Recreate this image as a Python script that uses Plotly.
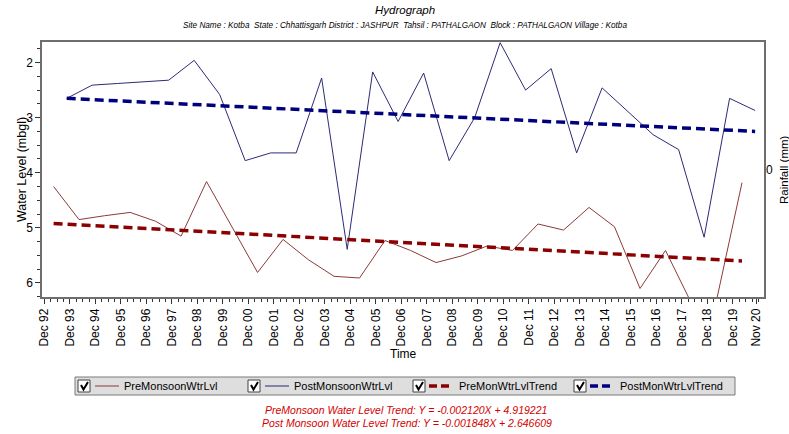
import plotly.graph_objects as go

# hydrograph data (water level in mbgl)
years = list(range(1993, 2021))
pre_dates = [f"{y}-04-10" for y in years]
post_dates = [f"{y}-10-15" for y in years]

pre_level = [4.25, 4.85, 4.78, 4.72, 4.88, 5.15, 4.16, 4.98, 5.81, 5.21,
             5.58, 5.88, 5.91, 5.23, 5.41, 5.63, 5.51, 5.33, 5.41, 4.93,
             5.04, 4.63, 4.98, 6.10, 5.41, 6.35, 6.32, 4.18]
post_level = [2.65, 2.41, 2.38, 2.35, 2.32, 1.96, 2.58, 3.78, 3.64, 3.64,
              2.28, 5.39, 2.17, 3.07, 2.19, 3.78, 3.00, 1.64, 2.50, 2.11,
              3.64, 2.46, 2.88, 3.31, 3.58, 5.17, 2.65, 2.87]

# trend line end points
pre_trend_dates = ["1993-04-10", "2020-04-10"]
pre_trend = [4.92, 5.60]
post_trend_dates = ["1993-10-15", "2020-10-15"]
post_trend = [2.65, 3.25]

tick_dates = [f"{y}-12-01" for y in range(1992, 2020)] + ["2020-11-01"]
tick_labels = [f"Dec {y % 100:02d}" for y in range(1992, 2020)] + ["Nov 20"]

PRE_COLOR = "#8c3a3a"
POST_COLOR = "#2b2b78"
PRE_TREND_COLOR = "#8b0000"
POST_TREND_COLOR = "#00007f"
FONT = "Liberation Sans, Arial, sans-serif"

# plot area in pixels (used for the hand-drawn legend and labels)
L, R, T, B = 42, 764, 42, 297


def px(x):
    return (x - L) / (R - L)


def py(y):
    return (B - y) / (B - T)


fig = go.Figure()
fig.add_trace(go.Scatter(x=pre_dates, y=pre_level, mode="lines", name="PreMonsoonWtrLvl",
                         line=dict(color=PRE_COLOR, width=1)))
fig.add_trace(go.Scatter(x=post_dates, y=post_level, mode="lines", name="PostMonsoonWtrLvl",
                         line=dict(color=POST_COLOR, width=1)))
fig.add_trace(go.Scatter(x=pre_trend_dates, y=pre_trend, mode="lines", name="PreMonWtrLvlTrend",
                         line=dict(color=PRE_TREND_COLOR, width=3.5, dash="9px,5px")))
fig.add_trace(go.Scatter(x=post_trend_dates, y=post_trend, mode="lines", name="PostMonWtrLvlTrend",
                         line=dict(color=POST_TREND_COLOR, width=3.5, dash="9px,5px")))

annotations = [
    dict(x=px(405), y=py(10), text="<i>Hydrograph</i>", font=dict(size=11.5)),
    dict(x=px(405), y=py(25),
         text="<i>Site Name : Kotba  State : Chhattisgarh District : JASHPUR  Tahsil : PATHALGAON  "
              "Block : PATHALGAON Village : Kotba</i>", font=dict(size=8.2)),
    dict(x=px(22), y=py(170), text="Water Level (mbgl)", textangle=-90, font=dict(size=12.5)),
    dict(x=px(784), y=py(170), text="Rainfall (mm)", textangle=-90, font=dict(size=11.5)),
    dict(x=px(770), y=py(170), text="0", font=dict(size=12)),
    dict(x=px(403), y=py(354), text="Time", font=dict(size=12)),
    dict(x=px(406), y=py(410), text="<i>PreMonsoon Water Level Trend: Y = -0.002120X + 4.919221</i>",
         font=dict(size=10.5, color="#d40000")),
    dict(x=px(407), y=py(423), text="<i>Post Monsoon Water Level Trend: Y = -0.001848X + 2.646609</i>",
         font=dict(size=10.5, color="#d40000")),
]

shapes = [dict(type="rect", x0=px(75), x1=px(735), y0=py(377), y1=py(395),
               fillcolor="#dedede", line=dict(color="#7a7a7a", width=1))]

legend_items = [
    ("PreMonsoonWtrLvl", PRE_COLOR, 1, "solid", 78),
    ("PostMonsoonWtrLvl", POST_COLOR, 1, "solid", 248),
    ("PreMonWtrLvlTrend", PRE_TREND_COLOR, 3.5, "dash", 413),
    ("PostMonWtrLvlTrend", POST_TREND_COLOR, 3.5, "dash", 574),
]
for name, color, width, dash, x0 in legend_items:
    shapes.append(dict(type="rect", x0=px(x0), x1=px(x0 + 12), y0=py(380), y1=py(392),
                       fillcolor="white", line=dict(color="#404040", width=1)))
    cx0, cy0 = px(x0 + 3), py(385)
    cx1, cy1 = px(x0 + 5.5), py(389.5)
    cx2, cy2 = px(x0 + 10), py(382)
    shapes.append(dict(type="path", path=f"M {cx0} {cy0} L {cx1} {cy1} L {cx2} {cy2}",
                       line=dict(color="black", width=2)))
    if dash == "solid":
        shapes.append(dict(type="line", x0=px(x0 + 17), x1=px(x0 + 41), y0=py(386), y1=py(386),
                           line=dict(color=color, width=width)))
    else:
        shapes.append(dict(type="line", x0=px(x0 + 16), x1=px(x0 + 40), y0=py(386), y1=py(386),
                           line=dict(color=color, width=width, dash="8px,4px")))
    annotations.append(dict(x=px(x0 + 44), y=py(386), text=name, xanchor="left",
                            font=dict(size=11)))

for s in shapes:
    s.update(xref="paper", yref="paper", layer="above")

for a in annotations:
    a.setdefault("xanchor", "center")
    a.update(xref="paper", yref="paper", yanchor="middle", showarrow=False)
    a["font"].setdefault("color", "black")
    a["font"]["family"] = FONT

fig.update_layout(
    width=789, height=434,
    margin=dict(l=L, r=789 - R, t=T, b=434 - B),
    paper_bgcolor="white", plot_bgcolor="white",
    showlegend=False,
    font=dict(family=FONT, size=12, color="black"),
    annotations=annotations,
    shapes=shapes,
    xaxis=dict(
        type="date", range=["1992-10-26", "2021-02-19"],
        tickmode="array", tickvals=tick_dates, ticktext=tick_labels, tickangle=-90,
        ticks="outside", ticklen=5, tickcolor="#333333", tickfont=dict(size=12),
        minor=dict(ticks="outside", ticklen=3, dtick="M3", tick0="1992-12-01", tickcolor="#333333"),
        showgrid=False, zeroline=False,
        showline=True, linecolor="#6e6e6e", linewidth=1.5, mirror=True,
    ),
    yaxis=dict(
        range=[6.255, 1.627], tickvals=[2, 3, 4, 5, 6],
        ticks="outside", ticklen=5, tickcolor="#333333", tickfont=dict(size=12),
        minor=dict(ticks="outside", ticklen=3, dtick=0.25, tick0=2, tickcolor="#333333"),
        showgrid=False, zeroline=False,
        showline=True, linecolor="#6e6e6e", linewidth=1.5, mirror=True,
    ),
)

# drop the browser's default body margin so the figure sits at the page corner
fig.write_html("out.html", config={"displayModeBar": False},
               post_script="document.body.style.margin = '0px';")
